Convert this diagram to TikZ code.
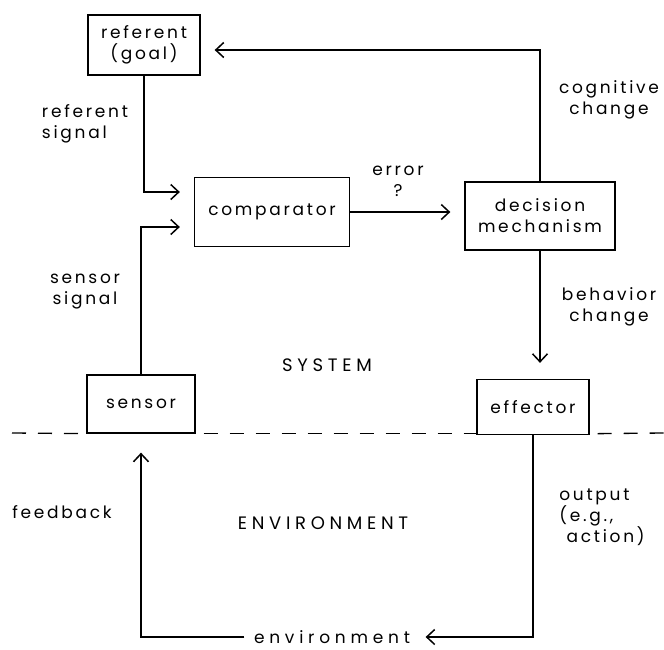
\documentclass[tikz,border=0pt]{standalone}
\usepackage{fontspec}
\setmainfont{Poppins}[LetterSpace=16]
\usetikzlibrary{arrows.meta,calc}

\begin{document}
\begin{tikzpicture} [
        x=1pt, y=-1pt,
        line width=1.3pt,
        font=\fontsize{17}{21}\selectfont,
        box/.style n args={2}{
        draw, rectangle,
        minimum width=#1pt,
        minimum height=#2pt,
        inner sep=0pt, align=center
        },
        lbl/.style={inner sep=0pt, align=left},
        caps/.style={lbl, font=\fontsize{18}{22}\selectfont\addfontfeature{LetterSpace=26}},
        arr/.style={-{Straight Barb[length=8pt,width=15pt,line width=1.5pt]}, shorten >=14pt}
    ]

    % page size as in the scan
    \useasboundingbox (0,0) rectangle (664,649);

    % the boxes
    \node[box = {112}{60}] (referent) at (144,45) {referent\\(goal)};
    \node[box = {155}{69}] (comparator) at (272,212) {comparator};
    \node[box = {150}{68}] (decision) at (540,216) {decision\\mechanism};
    \node[box = {108}{58}] (sensor) at (141,404) {sensor};
    \node[box = {112}{55}] (effector) at (533,407) {effector};
    \node[inner sep=9pt, font=\fontsize{17}{21}\selectfont\addfontfeature{LetterSpace=28}] (env) at (332,637) {environment};

    % labels
    \node[lbl] (refsig) at (85,124) {referent\\signal};
    \node[lbl, align=center] (senssig) at (85,292) {sensor\\signal};
    \node[lbl, align=center] (err) at (398,181) {error\\?};
    \node[lbl, align=center] (cogn) at (609,100) {cognitive\\change};
    \node[lbl, align=center] (behav) at (609,307) {behavior\\change};
    \node[caps] (system) at (327,365) {SYSTEM};
    \node[caps] (environ) at (323,523) {ENVIRONMENT};
    \node[lbl] (fback) at (62,512) {feedback};
    \node[lbl] (output) at (602,517) {output\\(e.g.,\\\ action)};

    % system / environment border
    \draw[dash pattern=on 14pt off 12pt] (12,433) -- (sensor.south west);
    \draw[dash pattern=on 14pt off 12pt] ($(sensor.south east)+(8,0)$) -- (effector.south west |- sensor.south);
    \draw[dash pattern=on 14pt off 12pt] ($(effector.south east |- sensor.south)+(8,0)$) -- (664,433);

    % connectors
    \draw[arr] (decision.north) |- ($(referent.east)+(0,5)$);
    \draw[arr] (referent.south) |- ($(comparator.west)+(0,-20)$);
    \draw[arr] (sensor.north) |- ($(comparator.west)+(0,15)$);
    \draw[arr] (comparator.east) -- (comparator.east -| decision.west);
    \draw[arr, shorten >=16pt] (decision.south) -- (decision.south |- effector.north);
    \draw[arr, shorten >=6pt] (effector.south) |- (env.east);
    \draw[arr, shorten >=19pt] (env.west) -| (sensor.south);

\end{tikzpicture}
\end{document}
